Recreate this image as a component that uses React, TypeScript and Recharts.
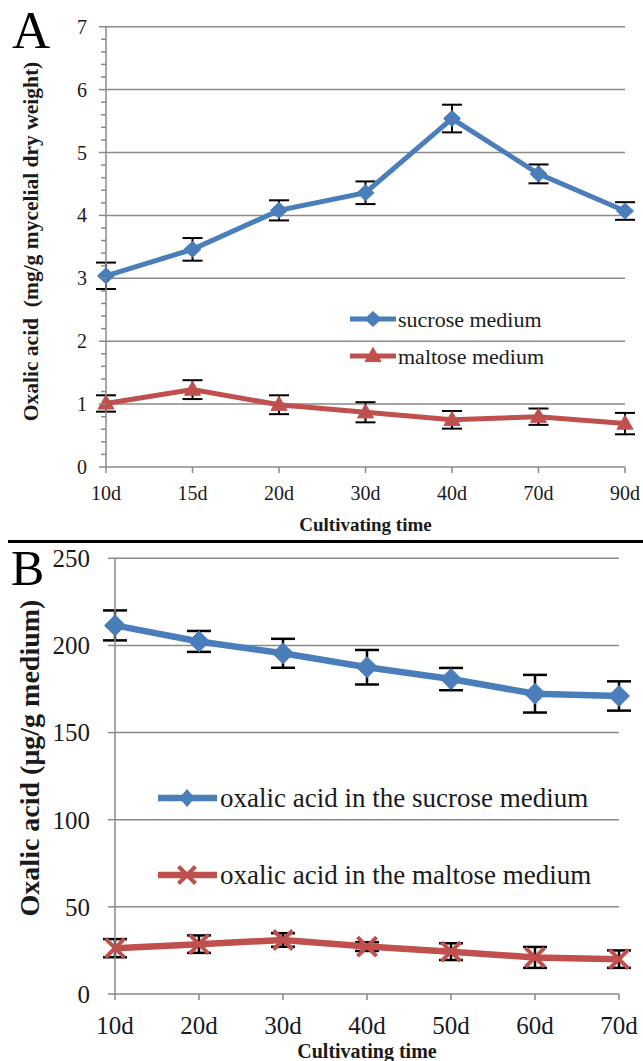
import React from 'react';
import { LineChart, Line, XAxis, YAxis, CartesianGrid, ErrorBar, Legend, Label } from 'recharts';

// ---------- Panel A data ----------
const categoriesA = ['10d', '15d', '20d', '30d', '40d', '70d', '90d'];
const sucroseA = [3.04, 3.46, 4.08, 4.36, 5.54, 4.66, 4.07];
const sucroseAErr = [0.21, 0.18, 0.16, 0.18, 0.22, 0.15, 0.14];
const maltoseA = [1.01, 1.23, 0.99, 0.87, 0.75, 0.8, 0.69];
const maltoseAErr = [0.13, 0.15, 0.15, 0.16, 0.14, 0.13, 0.17];
const yTicksA = [0, 0.2, 0.4, 0.6, 0.8, 1, 1.2, 1.4, 1.6, 1.8, 2, 2.2, 2.4, 2.6, 2.8, 3, 3.2, 3.4, 3.6, 3.8, 4, 4.2, 4.4, 4.6, 4.8, 5, 5.2, 5.4, 5.6, 5.8, 6, 6.2, 6.4, 6.6, 6.8, 7];
const gridA = [1, 2, 3, 4, 5, 6, 7];

// ---------- Panel B data ----------
const categoriesB = ['10d', '20d', '30d', '40d', '50d', '60d', '70d'];
const sucroseB = [211.5, 202.3, 195.5, 187.5, 180.7, 172.3, 171.0];
const sucroseBErr = [8.6, 6.0, 8.3, 9.9, 6.4, 10.8, 8.4];
const maltoseB = [26.3, 28.6, 31.0, 27.2, 24.3, 21.0, 20.0];
const maltoseBErr = [5.2, 5.0, 3.9, 2.5, 4.8, 6.0, 5.0];
const yTicksB = [0, 50, 100, 150, 200, 250];
const gridB = [50, 100, 150, 200, 250];

const dataA = categoriesA.map((c, i) => ({
  day: c,
  sucrose: sucroseA[i],
  sucroseErr: sucroseAErr[i],
  maltose: maltoseA[i],
  maltoseErr: maltoseAErr[i],
}));
const dataB = categoriesB.map((c, i) => ({
  day: c,
  sucrose: sucroseB[i],
  sucroseErr: sucroseBErr[i],
  maltose: maltoseB[i],
  maltoseErr: maltoseBErr[i],
}));

const SERIF = '"Times New Roman", "Liberation Serif", Tinos, serif';
const BLUE = '#4a7ebb';
const RED = '#c0504d';
const GRID = '#8a8a8a';
const TEXT = '#1a1a1a';

const diamondShape = (cx: number, cy: number, w: number, h: number, color: string, key?: any) => (
  <polygon
    key={key}
    points={`${cx},${cy - h / 2} ${cx + w / 2},${cy} ${cx},${cy + h / 2} ${cx - w / 2},${cy}`}
    fill={color}
    stroke={color}
    strokeWidth={1}
  />
);
const triangleShape = (cx: number, cy: number, w: number, h: number, color: string, key?: any) => (
  <polygon
    key={key}
    points={`${cx},${cy - h * 0.6} ${cx + w / 2},${cy + h * 0.4} ${cx - w / 2},${cy + h * 0.4}`}
    fill={color}
    stroke={color}
    strokeWidth={1}
  />
);
const xShape = (cx: number, cy: number, s: number, color: string, key?: any) => (
  <g key={key}>
    <line x1={cx - s / 2} y1={cy - s / 2} x2={cx + s / 2} y2={cy + s / 2} stroke={color} strokeWidth={4} />
    <line x1={cx - s / 2} y1={cy + s / 2} x2={cx + s / 2} y2={cy - s / 2} stroke={color} strokeWidth={4} />
  </g>
);

const dotDiamondA = (p: any) => diamondShape(p.cx, p.cy, 17, 16, BLUE, `da-${p.index}`);
const dotTriangleA = (p: any) => triangleShape(p.cx, p.cy, 16, 14, RED, `ta-${p.index}`);
const dotDiamondB = (p: any) => diamondShape(p.cx, p.cy, 21, 21, BLUE, `db-${p.index}`);
const dotXB = (p: any) => xShape(p.cx, p.cy, 19, RED, `xb-${p.index}`);

const YTickA = (props: any) => {
  const { x, y, payload } = props;
  const v = payload.value;
  const major = Math.abs(v - Math.round(v)) < 1e-6;
  return (
    <g>
      <line x1={x - (major ? 7 : 5)} y1={y} x2={x} y2={y} stroke={GRID} strokeWidth={1.5} />
      {major && (
        <text x={x - 19} y={y} dy="0.35em" textAnchor="end" fontFamily={SERIF} fontSize={20} fill={TEXT}>
          {Math.round(v)}
        </text>
      )}
    </g>
  );
};

const LegendA = () => (
  <svg width={643} height={540} style={{ position: 'absolute', left: 0, top: 0 }}>
    <line x1={350} y1={319} x2={396} y2={319} stroke={BLUE} strokeWidth={5} />
    {diamondShape(373, 319, 16, 15, BLUE)}
    <text x={398} y={319} dy="0.35em" fontFamily={SERIF} fontSize={22} fill={TEXT}>sucrose medium</text>
    <line x1={350} y1={356} x2={396} y2={356} stroke={RED} strokeWidth={5} />
    {triangleShape(373, 356, 16, 14, RED)}
    <text x={398} y={356} dy="0.35em" fontFamily={SERIF} fontSize={22} fill={TEXT}>maltose medium</text>
  </svg>
);

const LegendB = () => (
  <svg width={643} height={520} style={{ position: 'absolute', left: 0, top: 0 }}>
    <line x1={158} y1={257} x2={217} y2={257} stroke={BLUE} strokeWidth={6.5} />
    {diamondShape(187, 257, 14, 17, BLUE)}
    <text x={220} y={257} dy="0.35em" fontFamily={SERIF} fontSize={27} fill={TEXT}>oxalic acid in the sucrose medium</text>
    <line x1={158} y1={334} x2={217} y2={334} stroke={RED} strokeWidth={6.5} />
    {xShape(187, 334, 17, RED)}
    <text x={220} y={334} dy="0.35em" fontFamily={SERIF} fontSize={27} fill={TEXT}>oxalic acid in the maltose medium</text>
  </svg>
);

export default function App() {
  return (
    <div style={{ position: 'absolute', left: 0, top: 0, width: 643, height: 1061, background: '#fff', overflow: 'hidden' }}>
      {/* Panel A */}
      <div style={{ position: 'absolute', left: 0, top: 0 }}>
        <LineChart width={643} height={540} data={dataA} margin={{ top: 26.7, right: 18, left: 46, bottom: 33 }}>
          <CartesianGrid horizontal vertical={false} horizontalValues={gridA} stroke={GRID} strokeWidth={1.5} />
          <XAxis
            dataKey="day"
            height={40}
            axisLine={{ stroke: GRID, strokeWidth: 1.5 }}
            tickLine={{ stroke: GRID, strokeWidth: 1.5 }}
            tickSize={6}
            tickMargin={13}
            tick={{ fontFamily: SERIF, fontSize: 20, fill: TEXT }}
            interval={0}
          >
            <Label
              content={() => (
                <text x={365.5} y={531} textAnchor="middle" fontFamily={SERIF} fontWeight="bold" fontSize={19} fill={TEXT}>
                  Cultivating time
                </text>
              )}
            />
          </XAxis>
          <YAxis
            width={60}
            domain={[0, 7]}
            ticks={yTicksA}
            interval={0}
            axisLine={{ stroke: GRID, strokeWidth: 1.5 }}
            tickLine={false}
            tickSize={0}
            tickMargin={0}
            tick={<YTickA />}
          >
            <Label
              content={() => (
                <text
                  x={0}
                  y={0}
                  transform="translate(30,241.5) rotate(-90)"
                  textAnchor="middle"
                  dy="0.35em"
                  fontFamily={SERIF}
                  fontWeight="bold"
                  fontSize={21.5}
                  fill={TEXT}
                  style={{ whiteSpace: 'pre' }}
                >
                  {'Oxalic acid  (mg/g mycelial dry weight)'}
                </text>
              )}
            />
          </YAxis>
          <Legend verticalAlign="middle" layout="horizontal" wrapperStyle={{ left: 0, top: 0, width: 643, height: 540 }} content={() => <LegendA />} />
          <Line type="linear" dataKey="sucrose" stroke={BLUE} strokeWidth={5} dot={dotDiamondA} activeDot={false} isAnimationActive={false}>
            <ErrorBar dataKey="sucroseErr" width={10} strokeWidth={2} stroke="#000" direction="y" isAnimationActive={false} />
          </Line>
          <Line type="linear" dataKey="maltose" stroke={RED} strokeWidth={5} dot={dotTriangleA} activeDot={false} isAnimationActive={false}>
            <ErrorBar dataKey="maltoseErr" width={10} strokeWidth={2} stroke="#000" direction="y" isAnimationActive={false} />
          </Line>
        </LineChart>
      </div>

      {/* Panel B */}
      <div style={{ position: 'absolute', left: 0, top: 541 }}>
        <LineChart width={643} height={520} data={dataB} margin={{ top: 17.3, right: 24, left: 55, bottom: 27 }}>
          <CartesianGrid horizontal vertical={false} horizontalValues={gridB} stroke={GRID} strokeWidth={1.5} />
          <XAxis
            dataKey="day"
            height={40}
            axisLine={{ stroke: GRID, strokeWidth: 1.5 }}
            tickLine={{ stroke: GRID, strokeWidth: 1.5 }}
            tickSize={6}
            tickMargin={16}
            tick={{ fontFamily: SERIF, fontSize: 25, fill: TEXT }}
            interval={0}
          >
            <Label
              content={() => (
                <text x={367} y={517} textAnchor="middle" fontFamily={SERIF} fontWeight="bold" fontSize={20} fill={TEXT}>
                  Cultivating time
                </text>
              )}
            />
          </XAxis>
          <YAxis
            width={60}
            domain={[0, 250]}
            ticks={yTicksB}
            interval={0}
            axisLine={{ stroke: GRID, strokeWidth: 1.5 }}
            tickLine={{ stroke: GRID, strokeWidth: 1.5 }}
            tickSize={7}
            tickMargin={18}
            tick={{ fontFamily: SERIF, fontSize: 25, fill: TEXT }}
          >
            <Label
              content={() => (
                <text
                  x={0}
                  y={0}
                  transform="translate(29,217) rotate(-90)"
                  textAnchor="middle"
                  dy="0.35em"
                  fontFamily={SERIF}
                  fontWeight="bold"
                  fontSize={28}
                  fill={TEXT}
                >
                  Oxalic acid (μg/g medium)
                </text>
              )}
            />
          </YAxis>
          <Legend verticalAlign="middle" layout="horizontal" wrapperStyle={{ left: 0, top: 0, width: 643, height: 520 }} content={() => <LegendB />} />
          <Line type="linear" dataKey="sucrose" stroke={BLUE} strokeWidth={6.5} dot={dotDiamondB} activeDot={false} isAnimationActive={false}>
            <ErrorBar dataKey="sucroseErr" width={12} strokeWidth={2.5} stroke="#000" direction="y" isAnimationActive={false} />
          </Line>
          <Line type="linear" dataKey="maltose" stroke={RED} strokeWidth={6.5} dot={dotXB} activeDot={false} isAnimationActive={false}>
            <ErrorBar dataKey="maltoseErr" width={12} strokeWidth={2.5} stroke="#000" direction="y" isAnimationActive={false} />
          </Line>
        </LineChart>
      </div>

      {/* Panel letters and separator */}
      <svg width={643} height={1061} style={{ position: 'absolute', left: 0, top: 0, pointerEvents: 'none' }}>
        <text x={12} y={48} fontFamily={SERIF} fontSize={53} fill="#000">A</text>
        <line x1={8} y1={541.5} x2={643} y2={541.5} stroke="#000" strokeWidth={3} />
        <text x={11} y={585} fontFamily={SERIF} fontSize={50} fill="#000">B</text>
      </svg>
    </div>
  );
}
